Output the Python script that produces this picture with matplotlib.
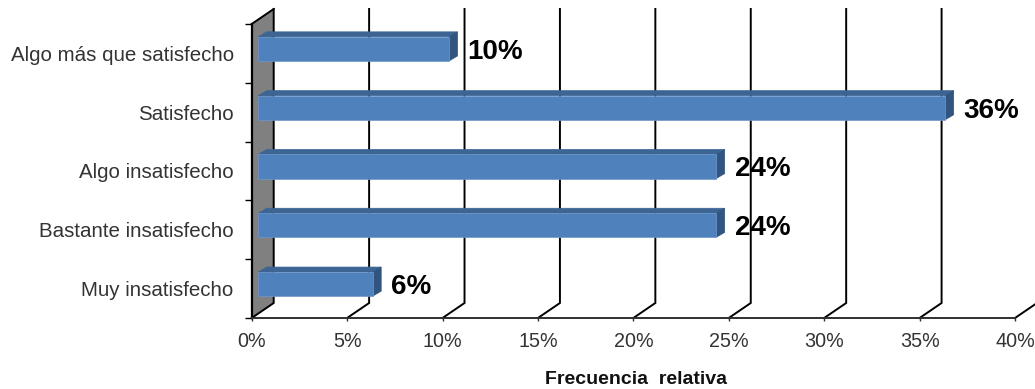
import matplotlib
matplotlib.use("Agg")
import matplotlib.pyplot as plt
from matplotlib.patches import Polygon
from matplotlib.transforms import Affine2D

plt.rcParams['font.family'] = ['Liberation Sans', 'DejaVu Sans']

# Satisfaction categories, bottom to top, with their relative frequency in percent
categories = ["Muy insatisfecho", "Bastante insatisfecho", "Algo insatisfecho",
              "Satisfecho", "Algo más que satisfecho"]
values = [6, 24, 24, 36, 10]
value_labels = ["6%", "24%", "24%", "36%", "10%"]
x_ticks = [0, 5, 10, 15, 20, 25, 30, 35, 40]
x_tick_labels = ["0%", "5%", "10%", "15%", "20%", "25%", "30%", "35%", "40%"]

W, H = 1035, 389
fig = plt.figure(figsize=(W / 100, H / 100), dpi=100)
ax = fig.add_axes([251.7 / W, (H - 318) / H, (1015 - 251.7) / W, (318 - 24) / H])
ax.set_xlim(0, 40)
ax.set_ylim(0, 5)
ax.patch.set_visible(False)


def shifted(dx, dy):
    """Data transform moved by a pixel offset, used for the oblique depth."""
    return ax.transData + Affine2D().translate(dx, dy)


DEPTH_X, DEPTH_Y = 22, 15
back = shifted(DEPTH_X, DEPTH_Y)
front = ax.transData

# Grey side wall
wall_px = [front.transform((0, 0)), front.transform((0, 5)),
           back.transform((0, 5)), back.transform((0, 0))]
ax.add_patch(Polygon(wall_px, closed=True, transform=None, facecolor="#808080",
                     edgecolor="none", zorder=0.5, clip_on=False))

# Gridlines on the back plane with their diagonal run to the floor edge
for t in x_ticks:
    bx0, by0 = back.transform((t, 0))
    bx1, by1 = back.transform((t, 5))
    fx0, fy0 = front.transform((t, 0))
    ax.plot([fx0, bx0, bx1], [fy0, by0, by1], transform=None, color="black",
            lw=1.4, clip_on=False, zorder=1, solid_joinstyle="miter")
fx, fy = front.transform((0, 5))
bx, by = back.transform((0, 5))
ax.plot([fx, bx], [fy, by], transform=None, color="black", lw=1.4, zorder=1,
        clip_on=False)

# Oblique bars: front face, top face and end face
BAR_DX, BAR_DY = 6.5, 4.5
BAR_DEPTH_X, BAR_DEPTH_Y = 8.5, 5
BAR_H = 0.41
bar_base = shifted(BAR_DX, BAR_DY)
for i, (v, lab) in enumerate(zip(values, value_labels)):
    c = i + 0.5
    x0, y0 = bar_base.transform((0, c - BAR_H / 2))
    x1, y1 = bar_base.transform((v, c + BAR_H / 2))
    d = (BAR_DEPTH_X, BAR_DEPTH_Y)
    top = [(x0, y1), (x1, y1), (x1 + d[0], y1 + d[1]), (x0 + d[0], y1 + d[1])]
    side = [(x1, y0), (x1, y1), (x1 + d[0], y1 + d[1]), (x1 + d[0], y0 + d[1])]
    face = [(x0, y0), (x1, y0), (x1, y1), (x0, y1)]
    for pts, col in ((top, "#3C6594"), (side, "#32557F"), (face, "#4F81BD")):
        ax.add_patch(Polygon(pts, closed=True, transform=None, facecolor=col,
                             edgecolor="#6E98CC" if col == "#4F81BD" else col,
                             lw=0.5, zorder=3, clip_on=False))
    ax.annotate(lab, xy=(x1 + d[0], (y0 + y1) / 2), xycoords="figure pixels",
                xytext=(10, -3), textcoords="offset pixels", ha="left", va="center",
                fontsize=20, fontweight="bold", color="black", zorder=4)

# Axes: value ticks along the floor, category labels between the ticks
for s in ("top", "right"):
    ax.spines[s].set_visible(False)
ax.spines["left"].set_linewidth(1.6)
ax.spines["left"].set_color("black")
ax.spines["bottom"].set_linewidth(1.4)
ax.spines["bottom"].set_color("#303030")
ax.set_xticks(x_ticks, x_tick_labels)
ax.tick_params(axis="x", length=2.5, width=1, color="#303030", labelsize=14.2,
               labelcolor="#333333", pad=7.5)
ax.set_yticks(range(6))
ax.set_yticklabels([])
ax.tick_params(axis="y", which="major", length=5, width=1, color="black")
ax.set_yticks([i + 0.5 for i in range(5)], categories, minor=True)
ax.tick_params(axis="y", which="minor", length=0, labelsize=14.8,
               labelcolor="#333333", pad=13)

fig.text(636 / W, (H - 379) / H, "Frecuencia  relativa", ha="center", va="center",
         fontsize=14, fontweight="bold", color="#111111")

fig.savefig("out.png", dpi=100)
